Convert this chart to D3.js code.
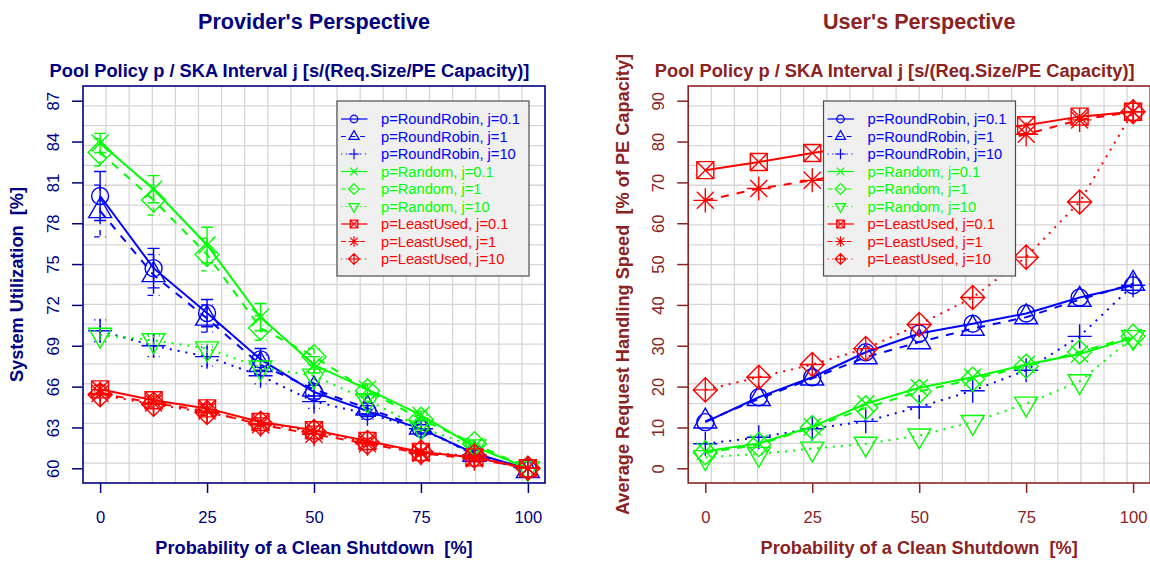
<!DOCTYPE html>
<html>
<head>
<meta charset="utf-8">
<script src="https://cdn.jsdelivr.net/npm/d3@7/dist/d3.min.js"></script>
<style>
  html, body { margin: 0; padding: 0; background: #ffffff; }
  svg { display: block; font-family: "Liberation Sans", Arial, Helvetica, sans-serif; }
  text { white-space: pre; }
</style>
</head>
<body>
<svg id="chart" width="1150" height="564"></svg>
<script>
// Probability of a clean shutdown [%]
const shutdownProb = [0, 12.5, 25, 37.5, 50, 62.5, 75, 87.5, 100];

// Series labels (pool policy / SKA interval)
const seriesLabels = [
  "p=RoundRobin, j=0.1", "p=RoundRobin, j=1", "p=RoundRobin, j=10",
  "p=Random, j=0.1", "p=Random, j=1", "p=Random, j=10",
  "p=LeastUsed, j=0.1", "p=LeastUsed, j=1", "p=LeastUsed, j=10"
];

// System utilization [%] (provider's perspective)
const utilRR01   = [80.0, 74.7, 71.4, 68.0, 65.6, 64.2, 62.9, 61.1, 59.95];
const utilRR1    = [78.9, 74.2, 71.0, 67.6, 65.8, 64.4, 63.0, 61.0, 59.8];
const utilRR10   = [70.1, 69.0, 68.2, 66.8, 64.9, 64.0, 62.9, 61.0, 60.0];
const utilRand01 = [83.9, 80.5, 76.4, 71.1, 67.6, 65.8, 63.9, 61.6, 60.0];
const utilRand1  = [83.2, 79.7, 75.7, 70.3, 68.2, 65.7, 63.6, 61.8, 60.0];
const utilRand10 = [69.8, 69.4, 68.8, 67.4, 66.8, 65.0, 63.0, 61.6, 60.0];
const utilLU01   = [65.8, 65.0, 64.4, 63.4, 62.8, 62.0, 61.2, 60.8, 60.0];
const utilLU1    = [65.5, 64.8, 64.2, 63.2, 62.5, 61.8, 61.1, 60.7, 60.0];
const utilLU10   = [65.4, 64.7, 64.1, 63.3, 62.7, 61.9, 61.2, 60.9, 60.0];

// Confidence interval half-widths for the utilization
const utilErrRR01   = [1.8, 1.45, 1.0, 0.8, 0.5, 0.4, 0.3, 0.2, 0];
const utilErrRR1    = [1.9, 1.5, 1.0, 0.7, 0.5, 0.4, 0.3, 0.2, 0];
const utilErrRR10   = [0.8, 0.8, 0.7, 0.6, 0.5, 0.4, 0.3, 0.2, 0];
const utilErrRand01 = [0.7, 1.0, 1.3, 1.0, 0.6, 0.4, 0.3, 0.2, 0];
const utilErrRand1  = [1.0, 1.1, 1.2, 0.9, 0.6, 0.4, 0.3, 0.2, 0];
const utilErrRand10 = [0.3, 0.3, 0.3, 0.3, 0.3, 0.2, 0.2, 0.1, 0];
const utilErrLU01   = [0.3, 0.3, 0.3, 0.3, 0.3, 0.2, 0.2, 0.1, 0];
const utilErrLU1    = [0.3, 0.3, 0.3, 0.3, 0.3, 0.2, 0.2, 0.1, 0];
const utilErrLU10   = [0.3, 0.3, 0.3, 0.3, 0.3, 0.2, 0.2, 0.1, 0];

// Average request handling speed [% of PE capacity] (user's perspective)
const speedRR01   = [11.3, 17.4, 22.3, 28.4, 33.0, 35.4, 37.9, 41.8, 44.8];
const speedRR1    = [11.5, 17.0, 22.0, 27.2, 30.9, 34.2, 37.0, 41.3, 45.2];
const speedRR10   = [6.0, 7.6, 9.7, 11.5, 15.0, 19.0, 24.0, 32.3, 44.8];
const speedRand01 = [4.2, 6.1, 10.2, 15.8, 19.7, 22.3, 25.4, 28.0, 32.0];
const speedRand1  = [3.8, 5.8, 10.0, 14.8, 18.8, 21.8, 25.0, 28.5, 32.3];
const speedRand10 = [2.7, 3.5, 4.8, 6.0, 8.0, 11.3, 15.8, 21.3, 32.1];
const speedLU01   = [73.0, 75.0, 77.2, 79.2, 81.0, 82.6, 84.0, 86.1, 87.3];
const speedLU1    = [65.6, 68.5, 70.5, 73.0, 75.5, 78.5, 81.8, 85.3, 87.3];
const speedLU10   = [19.2, 22.3, 25.4, 29.3, 35.2, 41.8, 51.7, 65.2, 87.3];

// Axis tick values
const utilTicks  = [60, 63, 66, 69, 72, 75, 78, 81, 84, 87];
const speedTicks = [0, 10, 20, 30, 40, 50, 60, 70, 80, 90];
const probTicks  = [0, 25, 50, 75, 100];

// Per-series look: colour, line type, plotting symbol
const seriesColors = ["#0000ff", "#0000ff", "#0000ff", "#00ff00", "#00ff00", "#00ff00", "#ff0000", "#ff0000", "#ff0000"];
const seriesLty    = ["solid", "dashed", "dotted", "solid", "dashed", "dotted", "solid", "dashed", "dotted"];
const seriesPch    = [1, 2, 3, 4, 5, 6, 7, 8, 9];

const utilSeries  = [utilRR01, utilRR1, utilRR10, utilRand01, utilRand1, utilRand10, utilLU01, utilLU1, utilLU10];
const utilErrors  = [utilErrRR01, utilErrRR1, utilErrRR10, utilErrRand01, utilErrRand1, utilErrRand10, utilErrLU01, utilErrLU1, utilErrLU10];
const speedSeries = [speedRR01, speedRR1, speedRR10, speedRand01, speedRand1, speedRand10, speedLU01, speedLU1, speedLU10];

const svg = d3.select("#chart");
const FONT = '"Liberation Sans", Arial, Helvetica, sans-serif';

// R-style plotting symbols, s = base symbol radius in px
function symbolPath(pch, s) {
  const q = Math.SQRT2 * s;
  const tr = 1.5551 * s, txc = 1.3468 * s, tyc = 0.7776 * s;
  const xLines = `M${-s},${-s}L${s},${s}M${-s},${s}L${s},${-s}`;
  const plus = `M${-q},0L${q},0M0,${-q}L0,${q}`;
  switch (pch) {
    case 1: return `M${s},0A${s},${s} 0 1,1 ${-s},0A${s},${s} 0 1,1 ${s},0Z`;
    case 2: return `M0,${-tr}L${txc},${tyc}L${-txc},${tyc}Z`;
    case 3: return plus;
    case 4: return xLines;
    case 5: return `M${-q},0L0,${-q}L${q},0L0,${q}Z`;
    case 6: return `M0,${tr}L${txc},${-tyc}L${-txc},${-tyc}Z`;
    case 7: return `M${-s},${-s}H${s}V${s}H${-s}Z` + xLines;
    case 8: return xLines + plus;
    case 9: return `M${-q},0L0,${-q}L${q},0L0,${q}Z` + plus;
  }
  return "";
}

function dashFor(lty, lwd) {
  if (lty === "dashed") return `${4 * lwd},${4 * lwd}`;
  if (lty === "dotted") return `${1 * lwd},${3 * lwd}`;
  return null;
}

function drawPanel(cfg) {
  const { x0, x1, y0, y1, yDomain, yTicks, series, errors, color, title, ylabel, legendX, subtitleShift } = cfg;
  const g = svg.append("g");
  const x = d3.scaleLinear().domain([-4, 104]).range([x0, x1]);
  const y = d3.scaleLinear().domain(yDomain).range([y1, y0]);

  // grid: 20 x 20 cells over the plot region
  const grid = g.append("g").attr("stroke", "#d6d6d6").attr("stroke-width", 1.3);
  for (let k = 1; k < 20; k++) {
    const gx = x0 + k * (x1 - x0) / 20;
    const gy = y0 + k * (y1 - y0) / 20;
    grid.append("line").attr("x1", gx).attr("x2", gx).attr("y1", y0).attr("y2", y1);
    grid.append("line").attr("x1", x0).attr("x2", x1).attr("y1", gy).attr("y2", gy);
  }

  // data lines, error bars and symbols
  const line = d3.line().x((d, i) => x(shutdownProb[i])).y(d => y(d));
  series.forEach((vals, si) => {
    const col = seriesColors[si];
    const sg = g.append("g");
    sg.append("path").attr("d", line(vals)).attr("fill", "none")
      .attr("stroke", col).attr("stroke-width", 2)
      .attr("stroke-dasharray", dashFor(seriesLty[si], 2));
    if (errors) {
      const errs = errors[si];
      vals.forEach((v, i) => {
        const e = errs[i];
        if (!e) return;
        const px = x(shutdownProb[i]);
        const ya = y(v + e), yb = y(v - e);
        sg.append("path")
          .attr("d", `M${px},${ya}L${px},${yb}M${px - 6},${ya}L${px + 6},${ya}M${px - 6},${yb}L${px + 6},${yb}`)
          .attr("fill", "none").attr("stroke", col).attr("stroke-width", 1.4)
          .attr("stroke-dasharray", dashFor(seriesLty[si], 1.4));
      });
    }
    sg.selectAll("path.sym").data(vals).join("path").attr("class", "sym")
      .attr("transform", (d, i) => `translate(${x(shutdownProb[i])},${y(d)})`)
      .attr("d", symbolPath(seriesPch[si], 8.5))
      .attr("fill", "none").attr("stroke", col).attr("stroke-width", 1.4);
  });

  // axes
  const xAxis = g.append("g").attr("transform", `translate(0,${y1})`)
    .call(d3.axisBottom(x).tickValues(probTicks).tickSize(10).tickFormat(d3.format("d")));
  xAxis.select(".domain").remove();
  xAxis.selectAll("line").attr("stroke", color).attr("stroke-width", 1.5);
  xAxis.selectAll("text").attr("y", 40).attr("dy", null)
    .attr("fill", color).style("font-size", "16.6px").style("font-family", FONT);

  const yAxis = g.append("g").attr("transform", `translate(${x0},0)`)
    .call(d3.axisLeft(y).tickValues(yTicks).tickSize(11).tickFormat(d3.format("d")));
  yAxis.select(".domain").remove();
  yAxis.selectAll("line").attr("stroke", color).attr("stroke-width", 1.5);
  yAxis.selectAll("text").attr("transform", "rotate(-90)").attr("x", 0).attr("y", -24)
    .attr("dy", null).attr("text-anchor", "middle")
    .attr("fill", color).style("font-size", "16.6px").style("font-family", FONT);

  // plot box
  g.append("rect").attr("x", x0).attr("y", y0).attr("width", x1 - x0).attr("height", y1 - y0)
    .attr("fill", "none").attr("stroke", color).attr("stroke-width", 1.6);

  // titles
  const cx = (x0 + x1) / 2;
  g.append("text").attr("x", cx).attr("y", 29).attr("text-anchor", "middle")
    .attr("fill", color).style("font-size", "21.6px").style("font-weight", "bold").text(title);
  g.append("text").attr("x", cx - subtitleShift).attr("y", 76.5).attr("text-anchor", "middle")
    .attr("fill", color).style("font-size", "18.3px").style("font-weight", "bold")
    .text("Pool Policy p / SKA Interval j [s/(Req.Size/PE Capacity)]");
  g.append("text").attr("x", cx).attr("y", 554).attr("text-anchor", "middle")
    .attr("fill", color).style("font-size", "18.2px").style("font-weight", "bold")
    .text("Probability of a Clean Shutdown  [%]");
  g.append("text").attr("transform", `translate(${cfg.ylabelX},${(y0 + y1) / 2}) rotate(-90)`)
    .attr("text-anchor", "middle")
    .attr("fill", color).style("font-size", "18.2px").style("font-weight", "bold").text(ylabel);

  // legend
  const lg = g.append("g").attr("transform", `translate(${legendX},101)`);
  lg.append("rect").attr("x", 0).attr("y", 0).attr("width", 192).attr("height", 175)
    .attr("fill", "#f0f0f0").attr("stroke", "#4d4d4d").attr("stroke-width", 1.2);
  seriesLabels.forEach((lab, i) => {
    const ly = 18 + i * 17.5;
    const col = seriesColors[i];
    lg.append("line").attr("x1", 4).attr("x2", 30.5).attr("y1", ly).attr("y2", ly)
      .attr("stroke", col).attr("stroke-width", 1.2)
      .attr("stroke-dasharray", dashFor(seriesLty[i], 1.2));
    lg.append("path").attr("transform", `translate(17,${ly})`)
      .attr("d", symbolPath(seriesPch[i], 3.8))
      .attr("fill", "none").attr("stroke", col).attr("stroke-width", 1.2);
    lg.append("text").attr("x", 44).attr("y", ly + 5.2).attr("fill", col)
      .style("font-size", "14.7px").text(lab);
  });
}

drawPanel({
  x0: 83, x1: 545, y0: 86, y1: 483,
  yDomain: [58.92, 88.08], yTicks: utilTicks,
  series: utilSeries, errors: utilErrors,
  color: "#000080", title: "Provider's Perspective",
  ylabel: "System Utilization  [%]", ylabelX: 22.5,
  legendX: 337, subtitleShift: 24.5
});

drawPanel({
  x0: 688.2, x1: 1150.2, y0: 86, y1: 483,
  yDomain: [-3.6, 93.6], yTicks: speedTicks,
  series: speedSeries, errors: null,
  color: "#8b2323", title: "User's Perspective",
  ylabel: "Average Request Handling Speed  [% of PE Capacity]", ylabelX: 629,
  legendX: 823.5, subtitleShift: 24.5
});
</script>
</body>
</html>
